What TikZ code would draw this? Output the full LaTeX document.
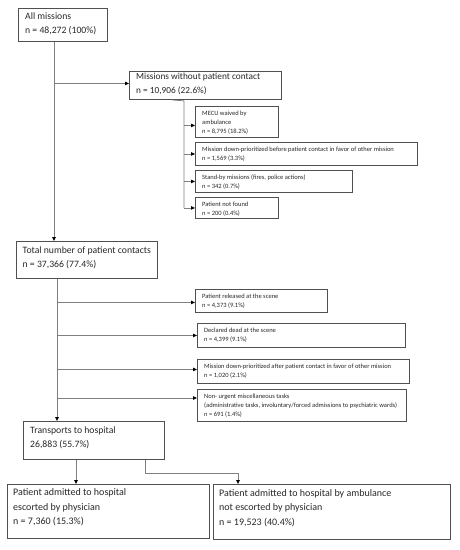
\documentclass[tikz,border=0pt]{standalone}
\usepackage{fontspec}
\setmainfont{Carlito}
\usetikzlibrary{calc,arrows.meta}
\definecolor{boxline}{HTML}{505050}
\definecolor{conline}{HTML}{808080}
\definecolor{txtcol}{HTML}{282828}
\tikzset{
  box/.style={draw=boxline, line width=0.9pt, inner sep=0pt, anchor=north west},
  bigtxt/.style={anchor=north west, inner sep=0pt, align=left, text=txtcol, font=\fontsize{9.7}{14}\selectfont},
  bottomtxt/.style={anchor=north west, inner sep=0pt, align=left, text=txtcol, font=\fontsize{10}{14.5}\selectfont},
  smalltxt/.style={anchor=north west, inner sep=0pt, align=left, text=txtcol, font=\fontsize{6.5}{9}\selectfont},
  con/.style={draw=conline, line width=0.8pt, -{Triangle[length=4pt,width=3.5pt,fill=black,color=black]}},
  conplain/.style={draw=conline, line width=0.8pt},
}
\newcommand{\mkbox}[5]{%
  \node[box, minimum width={(#4-#2)*1pt}, minimum height={(#5-#3)*1pt}] (#1) at (#2,#3) {};}
\begin{document}
\begin{tikzpicture}[x=1pt,y=-1pt]
\useasboundingbox[fill=white] (0,0) rectangle (459,550);
% boxes
\mkbox{all}{18}{8}{107}{41}
\mkbox{nopc}{129}{71}{281}{99}
\mkbox{mecu}{195}{106}{278}{137}
\mkbox{dpb}{195}{142}{417}{165}
\mkbox{stby}{195}{170}{352}{192}
\mkbox{pnf}{195}{197}{278}{218}
\mkbox{tot}{16}{241}{157}{278}
\mkbox{rel}{195}{289}{327}{312}
\mkbox{dead}{197}{323}{405}{347}
\mkbox{dpa}{197}{359}{409}{383}
\mkbox{nonu}{197}{389}{406}{421}
\mkbox{trans}{23}{421}{164}{459}
\mkbox{esc}{7}{484}{209}{538}
\mkbox{amb}{213}{484}{450}{539}
% texts
\node[bigtxt] (all-t) at ($(all.north west)+(7,5)$) {All missions\\n = 48,272 (100\%)};
\node[bigtxt, font=\fontsize{9.3}{14}\selectfont] (nopc-t) at ($(nopc.north west)+(7,2.3)$) {Missions without patient contact\\n = 10,906 (22.6\%)};
\node[smalltxt] (mecu-t) at ($(mecu.north west)+(7,4.3)$) {MECU waived by\\ambulance\\n = 8,795 (18.2\%)};
\node[smalltxt] (dpb-t) at ($(dpb.north west)+(7,4.3)$) {Mission down-prioritized before patient contact in favor of other mission\\n = 1,569 (3.3\%)};
\node[smalltxt] (stby-t) at ($(stby.north west)+(7,4.3)$) {Stand-by missions (fires, police actions)\\n = 342 (0.7\%)};
\node[smalltxt] (pnf-t) at ($(pnf.north west)+(7,4.3)$) {Patient not found\\n = 200 (0.4\%)};
\node[bigtxt] (tot-t) at ($(tot.north west)+(6.5,5.9)$) {Total number of patient contacts\\n = 37,366 (77.4\%)};
\node[smalltxt] (rel-t) at ($(rel.north west)+(7,4.3)$) {Patient released at the scene\\n = 4,373 (9.1\%)};
\node[smalltxt] (dead-t) at ($(dead.north west)+(7,4.3)$) {Declared dead at the scene\\n = 4,399 (9.1\%)};
\node[smalltxt] (dpa-t) at ($(dpa.north west)+(7,4.3)$) {Mission down-prioritized after patient contact in favor of other mission\\n = 1,020 (2.1\%)};
\node[smalltxt] (nonu-t) at ($(nonu.north west)+(7,4.3)$) {Non- urgent miscellaneous tasks\\(administrative tasks, involuntary/forced admissions to psychiatric wards)\\n = 691 (1.4\%)};
\node[bigtxt] (trans-t) at ($(trans.north west)+(7,5.9)$) {Transports to hospital\\26,883 (55.7\%)};
\node[bottomtxt] (esc-t) at ($(esc.north west)+(6,4.8)$) {Patient admitted to hospital\\escorted by physician\\n = 7,360 (15.3\%)};
\node[bottomtxt] (amb-t) at ($(amb.north west)+(6,5.3)$) {Patient admitted to hospital by ambulance\\not escorted by physician\\n = 19,523 (40.4\%)};
% spines
\coordinate (s1) at (54,0);
\coordinate (s2) at (184,0);
\coordinate (s3) at (57,0);
\coordinate (s4) at (76,0);
\coordinate (s5) at (145,0);
\coordinate (s6) at (238,0);
\coordinate (knee) at (0,473);
% all -> tot, branch to nopc
\draw[con] (all.south -| s1) -- (tot.north -| s1);
\draw[con] ($(s1 |- nopc.west)+(0,-2)$) -- ($(nopc.west)+(0,-2)$);
% nopc branches
\draw[conplain] ($(nopc.south -| s2)+(-12,0)$) -- ($(nopc.south -| s2)+(0,1)$) -- (pnf.west -| s2);
\draw[con] ($(mecu.west -| s2)+(0,3.5)$) -- ($(mecu.west)+(0,3.5)$);
\draw[con] (dpb.west -| s2) -- (dpb.west);
\draw[con] (stby.west -| s2) -- (stby.west);
\draw[con] (pnf.west -| s2) -- (pnf.west);
% tot -> trans, branches
\draw[con] (tot.south -| s3) -- (trans.north -| s3);
\draw[con] ($(rel.west -| s3)+(0,1.5)$) -- ($(rel.west)+(0,1.5)$);
\draw[con] (dead.west -| s3) -- (dead.west);
\draw[con] ($(dpa.west -| s3)+(0,-2)$) -- ($(dpa.west)+(0,-2)$);
\draw[con] ($(nonu.north west -| s3)+(0,9)$) -- ($(nonu.north west)+(0,9)$);
% trans -> esc, amb
\draw[con] (trans.south -| s4) -- (esc.north -| s4);
\draw[con] (trans.south -| s5) -- (s5 |- knee) -- (s6 |- knee) -- (amb.north -| s6);
\end{tikzpicture}
\end{document}
